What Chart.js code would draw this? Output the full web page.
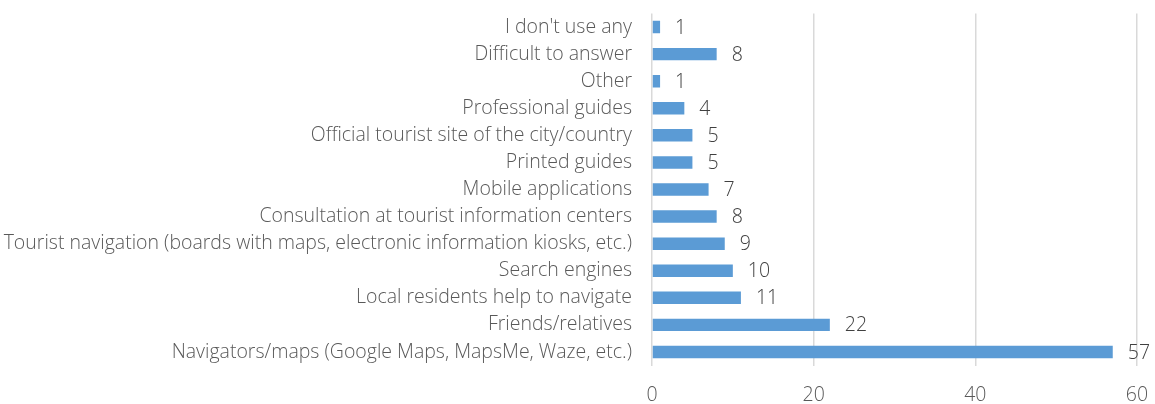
<!DOCTYPE html>
<html>
<head>
<meta charset="utf-8">
<script src="https://cdn.jsdelivr.net/npm/chart.js@4"></script>
<style>
  html, body { margin: 0; padding: 0; background: #fff; }
  #wrap { width: 1155px; height: 404px; }
</style>
</head>
<body>
<div id="wrap"><canvas id="myChart"></canvas></div>
<script>
const categories = [
  "I don't use any",
  "Difficult to answer",
  "Other",
  "Professional guides",
  "Official tourist site of the city/country",
  "Printed guides",
  "Mobile applications",
  "Consultation at tourist information centers",
  "Tourist navigation (boards with maps, electronic information kiosks, etc.)",
  "Search engines",
  "Local residents help to navigate",
  "Friends/relatives",
  "Navigators/maps (Google Maps, MapsMe, Waze, etc.)"
];
const values = [1, 8, 1, 4, 5, 5, 7, 8, 9, 10, 11, 22, 57];
const xTicks = [0, 20, 40, 60];

const FONT = "'Open Sans', 'Liberation Sans', sans-serif";

// draw value labels to the right of each bar
const valueLabels = {
  id: "valueLabels",
  afterDatasetsDraw(chart) {
    const c = chart.ctx;
    const meta = chart.getDatasetMeta(0);
    c.save();
    c.font = "300 19.5px " + FONT;
    c.fillStyle = "#404040";
    c.textAlign = "left";
    c.textBaseline = "middle";
    meta.data.forEach((bar, i) => {
      c.fillText(values[i], bar.x + 15, bar.y + 1);
    });
    c.restore();
  },
};

const ctx = document.getElementById("myChart");
const chart = new Chart(ctx, {
  type: "bar",
  data: {
    labels: categories,
    datasets: [
      {
        data: values,
        backgroundColor: "#5b9bd5",
        borderWidth: 0,
        categoryPercentage: 1,
        barPercentage: 0.46,
      },
    ],
  },
  plugins: [valueLabels],
  options: {
    indexAxis: "y",
    responsive: true,
    maintainAspectRatio: false,
    animation: false,
    layout: { padding: { top: 13.5, right: 18, left: 0, bottom: 0 } },
    plugins: {
      legend: { display: false },
      tooltip: { enabled: false },
    },
    scales: {
      x: {
        min: 0,
        max: 60,
        afterBuildTicks(scale) {
          scale.ticks = xTicks.map((v) => ({ value: v }));
        },
        afterFit(scale) {
          scale.height = 38.5;
          scale.paddingLeft = 0;
          scale.paddingRight = 0;
        },
        grid: { color: "#d9d9d9", lineWidth: 1.5, drawTicks: false },
        border: { display: false },
        ticks: {
          padding: 18,
          color: "#595959",
          font: { family: FONT, size: 19.5, weight: 300 },
        },
      },
      y: {
        afterFit(scale) {
          scale.width = 652;
          scale.paddingTop = 0;
          scale.paddingBottom = 0;
        },
        grid: { display: false, drawTicks: false },
        border: { display: false },
        ticks: {
          padding: 20,
          autoSkip: false,
          color: "#595959",
          font: { family: FONT, size: 19.5, weight: 300 },
        },
      },
    },
  },
});
</script>
</body>
</html>
